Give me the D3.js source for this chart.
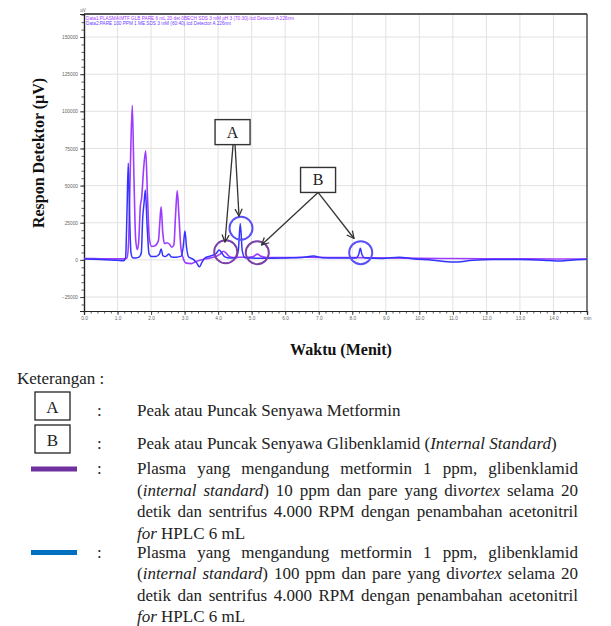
<!DOCTYPE html>
<html>
<head>
<meta charset="utf-8">
<script src="https://cdn.jsdelivr.net/npm/d3@7"></script>
<style>
  body { margin: 0; background: #fff; }
  svg { display: block; }
</style>
</head>
<body>
<div id="chart"></div>
<script>
// chromatogram data, [time (min), signal (uV)]
const data1 = [
  [0.0, 900], [0.5, 800], [1.0, 700], [1.2, 700], [1.28, 1200], [1.33, 12000],
  [1.38, 60000], [1.44, 104000], [1.49, 55000], [1.54, 14000], [1.59, 7000],
  [1.63, 12000], [1.68, 36000], [1.72, 42000], [1.78, 62000], [1.84, 73500],
  [1.89, 45000], [1.95, 14000], [2.02, 9000], [2.12, 9500], [2.22, 13000],
  [2.26, 25000], [2.30, 35700], [2.35, 18000], [2.40, 11000], [2.47, 11500],
  [2.55, 10500], [2.62, 8500], [2.68, 10000], [2.73, 30000], [2.78, 46500],
  [2.83, 30000], [2.89, 8000], [2.96, 1000], [3.05, -2200], [3.20, -2500],
  [3.35, -1000], [3.55, 300], [3.75, 1200], [3.95, 2500], [4.08, 4200],
  [4.16, 5800], [4.24, 4500], [4.32, 2500], [4.45, 1600], [4.65, 1800],
  [4.90, 1700], [5.05, 2200], [5.17, 3900], [5.28, 2400], [5.45, 1600],
  [6.0, 1500], [6.5, 1800], [7.0, 1700], [7.5, 1600], [8.0, 1500], [8.6, 1400],
  [9.2, 1300], [10.0, 1000], [11.0, 900], [12.0, 800], [13.0, 700], [14.0, 600],
  [15.0, 600]
];
const data2 = [
  [0.0, 600], [0.5, 300], [1.0, -300], [1.18, -500], [1.24, 1500], [1.28, 30000],
  [1.32, 65000], [1.36, 30000], [1.40, 5000], [1.45, 1500], [1.55, 1300],
  [1.65, 2000], [1.71, 5000], [1.75, 28000], [1.79, 38000], [1.83, 47000],
  [1.88, 24000], [1.94, 4000], [2.02, 2200], [2.15, 2300], [2.25, 4000],
  [2.30, 7400], [2.35, 3000], [2.42, 2200], [2.48, 3000], [2.53, 4000],
  [2.60, 2000], [2.75, 1800], [2.90, 2500], [2.96, 9000], [3.01, 19500],
  [3.06, 8000], [3.12, 2000], [3.25, 500], [3.36, -2000], [3.44, -4700],
  [3.52, -1500], [3.62, 1500], [3.80, 2800], [3.95, 4500], [4.03, 6700],
  [4.10, 5000], [4.20, 2000], [4.35, 1200], [4.52, 1300], [4.60, 6000],
  [4.66, 24500], [4.72, 6000], [4.80, 1500], [5.0, 1200], [5.5, 1100],
  [6.0, 1300], [6.5, 1600], [6.85, 2600], [7.1, 1500], [7.6, 1300], [8.10, 1300],
  [8.19, 3500], [8.24, 7800], [8.29, 3500], [8.38, 1300], [8.9, 1000],
  [9.4, 1800], [9.8, 800], [10.4, -200], [11.0, -1500], [11.6, -300],
  [12.2, 200], [13.0, 300], [13.7, -200], [14.1, -800], [14.6, 0], [15.0, 400]
];

const xMajor = d3.range(0, 16);
const xMinor = d3.range(0, 15.01, 0.2);
const yMajor = d3.range(-25000, 150001, 25000);
const yMinor = d3.range(-30000, 165001, 5000);
const xLabel = t => (t === 15 ? 'min' : t.toFixed(1));

const headerLines = [
  'Data1:PLASMA\\MTF GLB PARE 6 mL 20 det 0BECH SDS 3 mM pH 3 (70:30).lcd Detector A 226nm',
  'Data2:PARE 100 PPM 1 ME SDS 3 mM (60:40).lcd Detector A 226nm'
];

// peak markers (data units)
const peakCircles = [
  { t: 4.226, v: 5500, kind: 'p' },
  { t: 4.682, v: 21300, kind: 'b' },
  { t: 5.168, v: 4850, kind: 'p' },
  { t: 8.252, v: 4850, kind: 'b' }
];
const callouts = [
  { label: 'A', t: 4.43, v: 86000, targets: [[4.205, 12000], [4.622, 29500]], dx: [0.5, 2.5] },
  { label: 'B', t: 6.98, v: 53800, targets: [[5.293, 10000], [8.052, 14400]], dx: [0, 0] }
];

const legendRows = [
  { key: 'A', text: 'Peak atau Puncak Senyawa Metformin' },
  { key: 'B', text: 'Peak atau Puncak Senyawa Glibenklamid (_Internal Standard_)' }
];
const legendLines = [
  { color: '#7030a0', lines: [
    'Plasma yang mengandung metformin 1 ppm, glibenklamid',
    '(_internal standard_) 10 ppm dan pare yang di_vortex_ selama 20',
    'detik dan sentrifus 4.000 RPM dengan penambahan acetonitril',
    '_for_ HPLC 6 mL'] },
  { color: '#0070c0', lines: [
    'Plasma yang mengandung metformin 1 ppm, glibenklamid',
    '(_internal standard_) 100 ppm dan pare yang di_vortex_ selama 20',
    'detik dan sentrifus 4.000 RPM dengan penambahan acetonitril',
    '_for_ HPLC 6 mL'] }
];

const width = 611;
const height = 626;
const plot = { left: 84, right: 587, top: 14, bottom: 311 };

const svg = d3.select('#chart').append('svg')
  .attr('width', width)
  .attr('height', height);

svg.append('rect').attr('width', width).attr('height', height).attr('fill', '#fff');

const x = d3.scaleLinear().domain([0, 15]).range([plot.left, plot.right]);
const y = d3.scaleLinear().domain([-34400, 165500]).range([plot.bottom, plot.top]);

// grid
svg.append('g').selectAll('line').data(xMajor.slice(1, -1)).enter().append('line')
  .attr('x1', d => x(d)).attr('x2', d => x(d))
  .attr('y1', plot.top).attr('y2', plot.bottom)
  .attr('stroke', '#e2e2e2').attr('stroke-width', 1);
svg.append('g').selectAll('line').data(yMajor).enter().append('line')
  .attr('x1', plot.left).attr('x2', plot.right)
  .attr('y1', d => y(d)).attr('y2', d => y(d))
  .attr('stroke', '#e2e2e2').attr('stroke-width', 1);

// axes
const xAxisMinor = d3.axisBottom(x).tickValues(xMinor).tickSize(2.5).tickFormat('');
const xAxisMajor = d3.axisBottom(x).tickValues(xMajor).tickSize(4).tickPadding(2).tickFormat(xLabel);
const yAxisMinor = d3.axisLeft(y).tickValues(yMinor).tickSize(2.5).tickFormat('');
const yAxisMajor = d3.axisLeft(y).tickValues(yMajor).tickSize(4).tickPadding(2).tickFormat(d3.format('d'));

[xAxisMinor, xAxisMajor].forEach(ax => {
  svg.append('g').attr('class', 'axis')
    .attr('transform', `translate(0, ${plot.bottom})`)
    .call(ax);
});
[yAxisMinor, yAxisMajor].forEach(ax => {
  svg.append('g').attr('class', 'axis')
    .attr('transform', `translate(${plot.left}, 0)`)
    .call(ax);
});
svg.selectAll('.axis .domain').attr('stroke', '#222').attr('stroke-width', 1.2);
svg.selectAll('.axis line').attr('stroke', '#333').attr('stroke-width', 0.8);
svg.selectAll('.axis text')
  .attr('font-family', 'Liberation Sans, Arial, sans-serif')
  .attr('font-size', 4.8)
  .attr('fill', '#666');

// top and right border
svg.append('line').attr('x1', plot.left).attr('x2', plot.right)
  .attr('y1', plot.top).attr('y2', plot.top)
  .attr('stroke', '#222').attr('stroke-width', 1.6);
svg.append('line').attr('x1', plot.right).attr('x2', plot.right)
  .attr('y1', plot.top).attr('y2', plot.bottom)
  .attr('stroke', '#222').attr('stroke-width', 1.2);

svg.append('text')
  .attr('x', plot.left - 1).attr('y', plot.top - 2)
  .attr('text-anchor', 'middle')
  .attr('font-family', 'Liberation Sans, Arial, sans-serif')
  .attr('font-size', 4.6).attr('fill', '#666')
  .text('uV');

// header text
svg.append('g').selectAll('text').data(headerLines).enter().append('text')
  .attr('x', plot.left + 2)
  .attr('y', (d, i) => plot.top + 5.8 + i * 5.6)
  .attr('font-family', 'Liberation Sans, Arial, sans-serif')
  .attr('font-size', 4.7)
  .attr('fill', (d, i) => (i === 0 ? '#a040ff' : '#6a3cff'))
  .text(d => d);

// traces
svg.append('clipPath').attr('id', 'clip').append('rect')
  .attr('x', plot.left).attr('y', plot.top)
  .attr('width', plot.right - plot.left).attr('height', plot.bottom - plot.top);

const line = d3.line()
  .x(d => x(d[0]))
  .y(d => y(d[1]))
  .curve(d3.curveMonotoneX);

const traces = svg.append('g').attr('clip-path', 'url(#clip)');
traces.append('path').datum(data1)
  .attr('d', line).attr('fill', 'none')
  .attr('stroke', '#9d3cff').attr('stroke-width', 1.6).attr('stroke-linejoin', 'round');
traces.append('path').datum(data2)
  .attr('d', line).attr('fill', 'none')
  .attr('stroke', '#3333ff').attr('stroke-width', 1.5).attr('stroke-linejoin', 'round');

// peak circles
svg.append('g').selectAll('circle').data(peakCircles).enter().append('circle')
  .attr('cx', d => x(d.t)).attr('cy', d => y(d.v)).attr('r', 11.5)
  .attr('fill', 'none')
  .attr('stroke', d => (d.kind === 'p' ? '#7b3fa6' : '#5a50f5'))
  .attr('stroke-width', 2);

// arrows and boxes
svg.append('defs').append('marker')
  .attr('id', 'arrow')
  .attr('viewBox', '0 0 10 10')
  .attr('refX', 9).attr('refY', 5)
  .attr('markerWidth', 9).attr('markerHeight', 9)
  .attr('markerUnits', 'userSpaceOnUse')
  .attr('orient', 'auto')
  .append('path')
  .attr('d', 'M1,1 L9,5 L1,9')
  .attr('fill', 'none').attr('stroke', '#333').attr('stroke-width', 1.4);

const boxW = 35, boxH = 25;
callouts.forEach(c => {
  const cx = x(c.t), cy = y(c.v);
  c.targets.forEach((tg, i) => {
    svg.append('line')
      .attr('x1', cx + c.dx[i]).attr('y1', cy + boxH / 2)
      .attr('x2', x(tg[0])).attr('y2', y(tg[1]))
      .attr('stroke', '#333').attr('stroke-width', 1.3)
      .attr('marker-end', 'url(#arrow)');
  });
  svg.append('rect')
    .attr('x', cx - boxW / 2).attr('y', cy - boxH / 2)
    .attr('width', boxW).attr('height', boxH)
    .attr('fill', '#fff').attr('stroke', '#333').attr('stroke-width', 1.4);
  svg.append('text')
    .attr('x', cx).attr('y', cy + 5.5)
    .attr('text-anchor', 'middle')
    .attr('font-family', 'Liberation Serif, Times New Roman, serif')
    .attr('font-size', 16).attr('fill', '#222')
    .text(c.label);
});

// axis titles
svg.append('text')
  .attr('transform', 'translate(44, 153) rotate(-90)')
  .attr('text-anchor', 'middle')
  .attr('font-family', 'Liberation Serif, Times New Roman, serif')
  .attr('font-weight', 'bold').attr('font-size', 16).attr('fill', '#111')
  .text('Respon Detektor (µV)');
svg.append('text')
  .attr('x', 341).attr('y', 354.5)
  .attr('text-anchor', 'middle')
  .attr('font-family', 'Liberation Serif, Times New Roman, serif')
  .attr('font-weight', 'bold').attr('font-size', 16).attr('fill', '#111')
  .text('Waktu (Menit)');

// legend
const serif = 'Liberation Serif, Times New Roman, serif';
const fs = 17;
const textX = 137, textRight = 578, colonX = 97;
const legend = svg.append('g')
  .attr('font-family', serif).attr('font-size', fs).attr('fill', '#222');

legend.append('text').attr('x', 17).attr('y', 384).text('Keterangan :');

function writeLine(g, str, x0, yb, justifyTo) {
  let italic = false;
  const words = str.split(' ');
  const nodes = words.map(w => {
    const t = g.append('text').attr('y', yb);
    w.split('_').forEach((part, k) => {
      if (k > 0) italic = !italic;
      if (part) t.append('tspan').attr('font-style', italic ? 'italic' : 'normal').text(part);
    });
    return t;
  });
  const widths = nodes.map(n => n.node().getComputedTextLength());
  const gap = justifyTo
    ? (justifyTo - x0 - d3.sum(widths)) / (words.length - 1)
    : fs * 0.25;
  let cx = x0;
  nodes.forEach((n, k) => { n.attr('x', cx); cx += widths[k] + gap; });
}

const rowTop = [392, 425];
legendRows.forEach((r, i) => {
  legend.append('rect')
    .attr('x', 35).attr('y', rowTop[i]).attr('width', 35).attr('height', 28)
    .attr('fill', 'none').attr('stroke', '#222').attr('stroke-width', 1.3);
  legend.append('text')
    .attr('x', 52.5).attr('y', rowTop[i] + 20.5)
    .attr('text-anchor', 'middle')
    .text(r.key);
  legend.append('text').attr('x', colonX).attr('y', rowTop[i] + 23.5).text(':');
  writeLine(legend, r.text, textX, rowTop[i] + 23.5, null);
});

const lineStart = [474, 557.5];
const lh = 21.5;
legendLines.forEach((item, i) => {
  legend.append('rect')
    .attr('x', 31).attr('y', lineStart[i] - 7.5)
    .attr('width', 46).attr('height', 5)
    .attr('fill', item.color);
  legend.append('text').attr('x', colonX).attr('y', lineStart[i]).text(':');
  item.lines.forEach((l, k) => {
    const last = k === item.lines.length - 1;
    writeLine(legend, l, textX, lineStart[i] + k * lh, last ? null : textRight);
  });
});
</script>
</body>
</html>
